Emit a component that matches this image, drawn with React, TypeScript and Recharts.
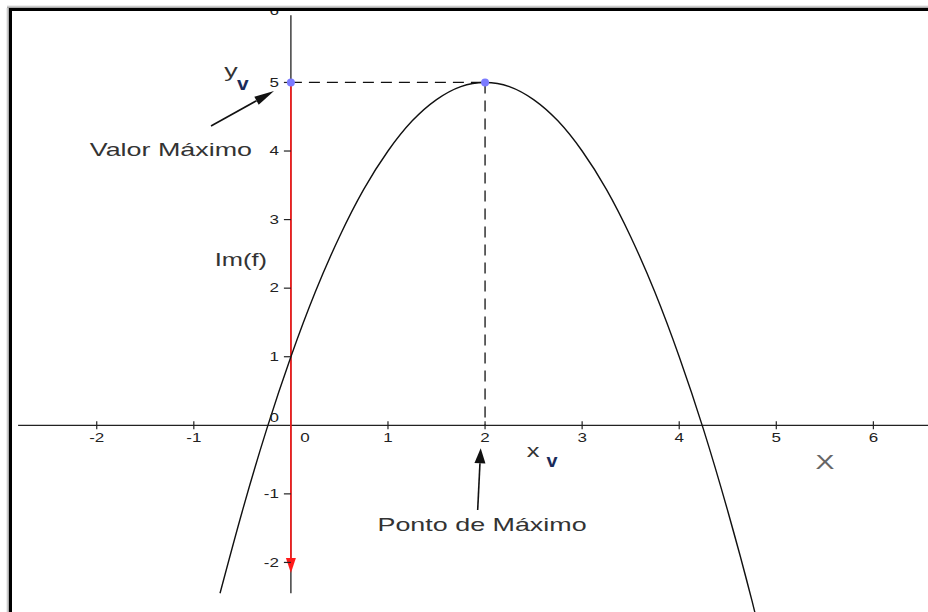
import { LineChart, Line, XAxis, YAxis, ReferenceLine, ReferenceDot } from "recharts"

// tick values on both axes
const xTicks = [-2, -1, 0, 1, 2, 3, 4, 5, 6]
const yTicks = [-2, -1, 0, 1, 2, 3, 4, 5, 6]

const curveX = [-0.73, -0.5, -0.25, 0, 0.25, 0.5, 0.75, 1, 1.25, 1.5, 1.75, 2, 2.25, 2.5, 2.75, 3, 3.25, 3.5, 3.75, 4, 4.25, 4.5, 4.75, 5]
const curveY = [-2.45, -1.25, -0.06, 1, 1.94, 2.75, 3.44, 4, 4.44, 4.75, 4.94, 5, 4.94, 4.75, 4.44, 4, 3.44, 2.75, 1.94, 1, -0.06, -1.25, -2.56, -4]
const curve = curveX.map((x, i) => ({ x, y: curveY[i] }))

// vertex of the parabola
const xV = 2
const yV = 5

const X_DOMAIN: [number, number] = [-2.9965, 6.5627]
const Y_DOMAIN: [number, number] = [-2.7228, 6.2024]

// the original picture is stretched sideways
const SX = 1.416
const FONT = "'Liberation Sans', Arial, sans-serif"

function SText({ x, y, children, size = 12, anchor = "middle", weight = "normal", fill = "#222", sx = SX, base = "central" }: any) {
  return (
    <text
      transform={`translate(${x},${y}) scale(${sx},1)`}
      textAnchor={anchor}
      dominantBaseline={base}
      fontFamily={FONT}
      fontSize={size}
      fontWeight={weight}
      fill={fill}
    >
      {children}
    </text>
  )
}

const arrowShape = (color: string, len: number, width: number, sw: number) => (p: any) => {
  const { x1, y1, x2, y2 } = p
  const dx = x2 - x1
  const dy = y2 - y1
  const d = Math.hypot(dx, dy) || 1
  const ux = dx / d
  const uy = dy / d
  const bx = x2 - ux * len
  const by = y2 - uy * len
  const px = (-uy * width) / 2
  const py = (ux * width) / 2
  return (
    <g>
      <line x1={x1} y1={y1} x2={bx} y2={by} stroke={color} strokeWidth={sw} />
      <polygon points={`${x2},${y2} ${bx + px},${by + py} ${bx - px},${by - py}`} fill={color} />
    </g>
  )
}

export default function App() {
  return (
    <div style={{ position: "absolute", left: 0, top: 0, width: 928, height: 612, background: "#fff", overflow: "hidden" }}>
      <LineChart width={928} height={612} data={curve} margin={{ top: 0, right: 0, bottom: 0, left: 0 }}>
        <XAxis type="number" dataKey="x" domain={X_DOMAIN} allowDataOverflow hide />
        <YAxis type="number" domain={Y_DOMAIN} allowDataOverflow hide />

        {/* axes through the origin */}
        <ReferenceLine segment={[{ x: -2.81, y: 0 }, { x: X_DOMAIN[1], y: 0 }]} stroke="#222" strokeWidth={1.3} ifOverflow="visible" />
        <ReferenceLine segment={[{ x: 0, y: -2.45 }, { x: 0, y: 5.98 }]} stroke="#222" strokeWidth={1.3} ifOverflow="visible" />

        {xTicks.map((t) => (
          <ReferenceDot
            key={"xt" + t}
            x={t}
            y={0}
            r={0}
            ifOverflow="visible"
            shape={(p: any) =>
              t === 0 ? (
                <SText x={p.cx + 14} y={p.cy + 13}>{t}</SText>
              ) : (
                <g>
                  <line x1={p.cx} y1={p.cy - 4} x2={p.cx} y2={p.cy + 4} stroke="#222" strokeWidth={1.2} />
                  <SText x={p.cx} y={p.cy + 13}>{t}</SText>
                </g>
              )
            }
          />
        ))}
        {yTicks.map((t) => (
          <ReferenceDot
            key={"yt" + t}
            x={0}
            y={t}
            r={0}
            ifOverflow="visible"
            shape={(p: any) =>
              t === 0 ? (
                <SText x={p.cx - 12} y={p.cy - 7} anchor="end">{t}</SText>
              ) : (
                <g>
                  {t < 6 && <line x1={p.cx - 7} y1={p.cy} x2={p.cx} y2={p.cy} stroke="#222" strokeWidth={1.2} />}
                  <SText x={p.cx - 12} y={t < 6 ? p.cy : p.cy - 3} anchor="end">{t}</SText>
                </g>
              )
            }
          />
        ))}

        {/* dashed guides to the vertex */}
        <ReferenceLine segment={[{ x: 0, y: yV }, { x: xV, y: yV }]} stroke="#111" strokeWidth={1.3} strokeDasharray="11 7" ifOverflow="visible" />
        <ReferenceLine segment={[{ x: xV, y: yV }, { x: xV, y: 0 }]} stroke="#111" strokeWidth={1.3} strokeDasharray="11 7" ifOverflow="visible" />

        {/* image of f, red arrow along the y axis */}
        <ReferenceLine segment={[{ x: 0, y: yV }, { x: 0, y: -2.155 }]} ifOverflow="visible" shape={arrowShape("#ff1a1a", 15, 10, 1.6)} />

        <Line type="natural" dataKey="y" stroke="#111" strokeWidth={1.4} dot={false} activeDot={false} isAnimationActive={false} />

        <ReferenceDot x={0} y={yV} r={4} fill="#7b7bff" stroke="none" ifOverflow="visible" />
        <ReferenceDot x={xV} y={yV} r={4} fill="#7b7bff" stroke="none" ifOverflow="visible" />

        {/* annotation arrows */}
        <ReferenceLine segment={[{ x: -0.823, y: 4.365 }, { x: -0.174, y: 4.875 }]} ifOverflow="visible" shape={arrowShape("#111", 20, 9, 1.6)} />
        <ReferenceLine segment={[{ x: 1.924, y: -1.235 }, { x: 1.955, y: -0.335 }]} ifOverflow="visible" shape={arrowShape("#111", 15, 11, 1.6)} />

        {/* labels around the maximum value */}
        <ReferenceDot
          x={0}
          y={yV}
          r={0}
          ifOverflow="visible"
          shape={(p: any) => (
            <g>
              <SText x={p.cx - 60} y={p.cy - 5} size={19} base="alphabetic" fill="#333">y</SText>
              <SText x={p.cx - 48} y={p.cy + 8} size={19} weight="bold" sx={1.1} base="alphabetic" fill="#1a2a5a">v</SText>
              <SText x={p.cx - 120} y={p.cy + 74} size={19} base="alphabetic" fill="#333">Valor Máximo</SText>
            </g>
          )}
        />
        <ReferenceDot
          x={0}
          y={2}
          r={0}
          ifOverflow="visible"
          shape={(p: any) => (
            <SText x={p.cx - 50} y={p.cy - 22} size={18} base="alphabetic" fill="#333">Im(f)</SText>
          )}
        />
        <ReferenceDot
          x={xV}
          y={0}
          r={0}
          ifOverflow="visible"
          shape={(p: any) => (
            <g>
              <SText x={p.cx + 48} y={p.cy + 32} size={18} base="alphabetic" fill="#333">x</SText>
              <SText x={p.cx + 67} y={p.cy + 42} size={18} weight="bold" sx={1.1} base="alphabetic" fill="#1a2a5a">v</SText>
              <SText x={p.cx - 3} y={p.cy + 106} size={19} base="alphabetic" fill="#333">Ponto de Máximo</SText>
            </g>
          )}
        />
        <ReferenceDot
          x={5.5}
          y={0}
          r={0}
          ifOverflow="visible"
          shape={(p: any) => (
            <SText x={p.cx} y={p.cy + 44} size={20} base="alphabetic" fill="#666">X</SText>
          )}
        />
      </LineChart>
      {/* soft edge above the frame */}
      <div style={{ position: "absolute", left: 7, top: 5, width: 921, height: 3, background: "linear-gradient(#fff, #999)" }} />
      <div style={{ position: "absolute", left: 6, top: 8, width: 3, height: 604, background: "linear-gradient(90deg, #fff, #999)" }} />
      <div
        style={{
          position: "absolute",
          left: 9,
          top: 8,
          width: 919,
          height: 604,
          boxSizing: "border-box",
          borderTop: "3px solid #000",
          borderLeft: "3px solid #000",
        }}
      />
    </div>
  )
}
